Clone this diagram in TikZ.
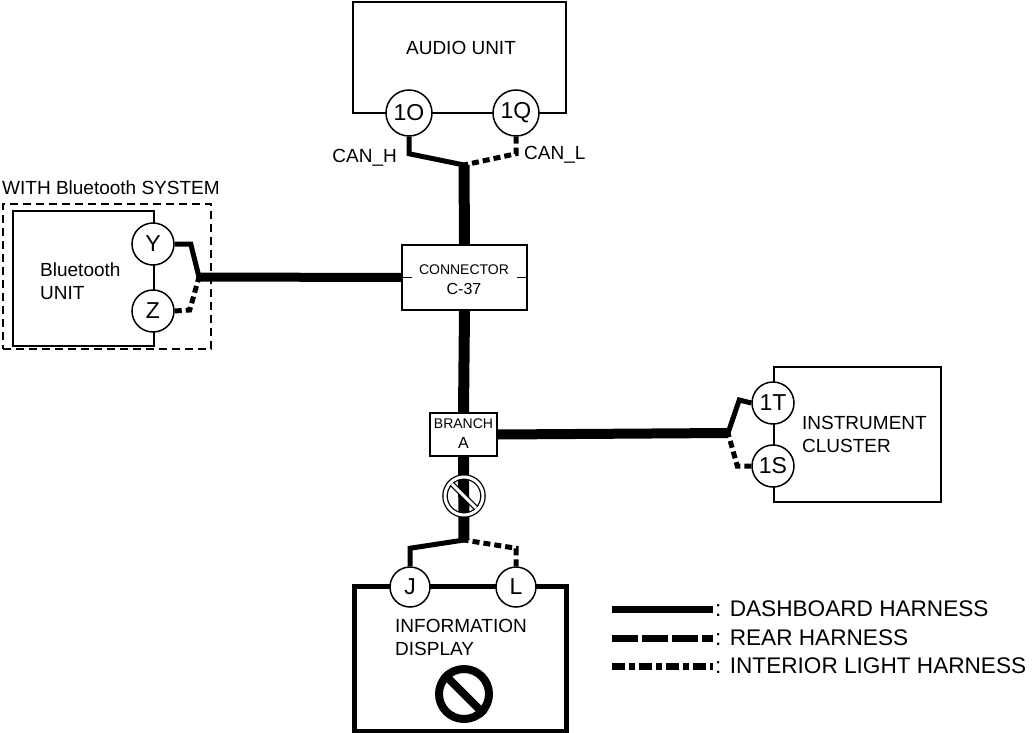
\documentclass[tikz,border=0pt]{standalone}
\usepackage{fontspec}
\setmainfont{Liberation Sans}
\usetikzlibrary{calc}
\tikzset{
  unit/.style={draw, line width=1.5pt, inner sep=0pt},
  pin/.style={circle, draw, line width=1.5pt, fill=white, minimum size=42pt, inner sep=0pt, font=\fontsize{23}{24}\selectfont},
  lbl/.style={inner sep=0pt, font=\fontsize{19}{23}\selectfont},
  smalllbl/.style={inner sep=0pt, align=center, font=\fontsize{14}{20}\selectfont},
  trunk/.style={line width=11pt},
  wire/.style={line width=5pt},
  wirerear/.style={wire, dash pattern=on 7pt off 4pt},
  legdash/.style={line width=7pt},
  legrear/.style={legdash, dash pattern=on 26pt off 4pt},
  leglight/.style={legdash, dash pattern=on 13pt off 4pt on 6pt off 4pt},
  banring/.style={circle, draw, line width=1.3pt, double=white, double distance=3pt, minimum size=38pt, inner sep=0pt, outer sep=0pt},
}
\begin{document}
\begin{tikzpicture}[x=1pt, y=-1pt]
  \useasboundingbox (0,0) rectangle (1033,733);

  % オーディオユニット
  \node[unit, minimum width=213pt, minimum height=111pt] (audio) at (459.5,57.5) {};
  \node[lbl] (audioTxt) at (461,48) {AUDIO UNIT};
  \node[pin, minimum size=46pt] (p1O) at (409,113) {1O};
  \node[pin, minimum size=46pt] (p1Q) at (516,113) {1Q};
  \node[lbl, anchor=east] (canH) at (397,158) {CAN\_H};
  \node[lbl, anchor=west] (canL) at (524,155) {CAN\_L};

  % Bluetooth
  \node[lbl, anchor=west] (btTitle) at (2,188) {WITH Bluetooth SYSTEM};
  \node[draw, line width=2pt, dash pattern=on 8pt off 5pt, minimum width=208pt, minimum height=145pt] (btArea) at (107,276.5) {};
  \node[unit, minimum width=141pt, minimum height=135pt] (btUnit) at (83.5,278.5) {};
  \node[lbl, anchor=west, align=left] (btTxt) at (40,281) {Bluetooth\\UNIT};
  \node[pin] (pY) at (153,244) {Y};
  \node[pin] (pZ) at (153,311) {Z};

  % コネクタ C-37
  \node[unit, minimum width=125pt, minimum height=65pt] (conn) at (464.5,277.5) {};
  \node[smalllbl] (connTxt) at (464,280) {CONNECTOR\\{\fontsize{16}{20}\selectfont C-37}};
  \draw[line width=1.5pt] (conn.west) -- ++(11,0);
  \draw[line width=1.5pt] (conn.east) -- ++(-11,0);

  % ブランチ A
  \node[unit, minimum width=67pt, minimum height=43pt] (branch) at (463.5,434.5) {};
  \node[smalllbl] (branchTxt) at (463.5,434) {BRANCH\\{\fontsize{16}{20}\selectfont A}};

  % インストルメントクラスタ
  \node[unit, minimum width=167pt, minimum height=135pt] (cluster) at (857.5,434.5) {};
  \node[lbl, anchor=west, align=left] (clusterTxt) at (802,434) {INSTRUMENT\\CLUSTER};
  \node[pin] (p1T) at (773,403) {1T};
  \node[pin] (p1S) at (773,466) {1S};

  % インフォメーションディスプレイ
  \node[draw, line width=5pt, minimum width=212pt, minimum height=145pt] (disp) at (460,658.5) {};
  \node[lbl, anchor=west, align=left] (dispTxt) at (395,637) {INFORMATION\\DISPLAY};
  \node[pin, minimum size=40pt] (pJ) at (410,587) {J};
  \node[pin, minimum size=40pt] (pL) at (516,587) {L};

  % 分岐点
  \coordinate (jAudio) at (464,165);
  \coordinate (jBT) at (199,277);
  \coordinate (jIC) at (728,433);
  \coordinate (jDisp) at (464,540);

  % 幹線
  \draw[trunk] (jAudio) -- (conn.north);
  \draw[trunk] (conn.south) -- (branch.north);
  \draw[trunk] (branch.south) -- (jDisp);
  \draw[line width=9pt] (jBT) -- (conn.west);
  \draw[line width=10pt] (branch.east) -- (jIC);

  % 端子への配線
  \draw[wire] (p1O.south) -- ++(0,17) -- (jAudio);
  \draw[wirerear] (p1Q.south) -- ++(0,17) -- (jAudio);
  \draw[wire] (pY.east) -- ++(16,0) -- (jBT);
  \draw[wirerear] (pZ.east) -- ++(15,-1) -- (jBT);
  \draw[wire] (p1T.west) -- ++(-12,-3) -- (jIC);
  \draw[wirerear] (p1S.west) -- ++(-14,0) -- (jIC);
  \draw[wire] (pJ.north) -- ++(0,-18) -- (jDisp);
  \draw[wirerear] (pL.north) -- ++(0,-18) -- (jDisp);

  % 禁止マーク
  \node[banring] (banWire) at (464,496) {};
  \draw[line width=1.3pt, double=white, double distance=3pt] ($(banWire.center)+(225:17)$) -- ($(banWire.center)+(45:17)$);
  \node[circle, draw, line width=8pt, minimum size=50pt, inner sep=0pt] (banDisp) at (464,694) {};
  \draw[line width=8pt] (banDisp.north west) -- (banDisp.south east);

  % 凡例
  \node[inner sep=0pt, anchor=west, font=\fontsize{22.6}{24}\selectfont] (legA) at (715,609) {: DASHBOARD HARNESS};
  \node[inner sep=0pt, anchor=west, font=\fontsize{22.6}{24}\selectfont] (legB) at (715,638) {: REAR HARNESS};
  \node[inner sep=0pt, anchor=west, font=\fontsize{22.6}{24}\selectfont] (legC) at (715,666) {: INTERIOR LIGHT HARNESS};
  \draw[legdash] (612,609) -- ([xshift=-2pt]legA.west);
  \draw[legrear] (612,638) -- ([xshift=-2pt]legB.west);
  \draw[leglight] (612,666) -- ([xshift=-2pt]legC.west);
\end{tikzpicture}
\end{document}
